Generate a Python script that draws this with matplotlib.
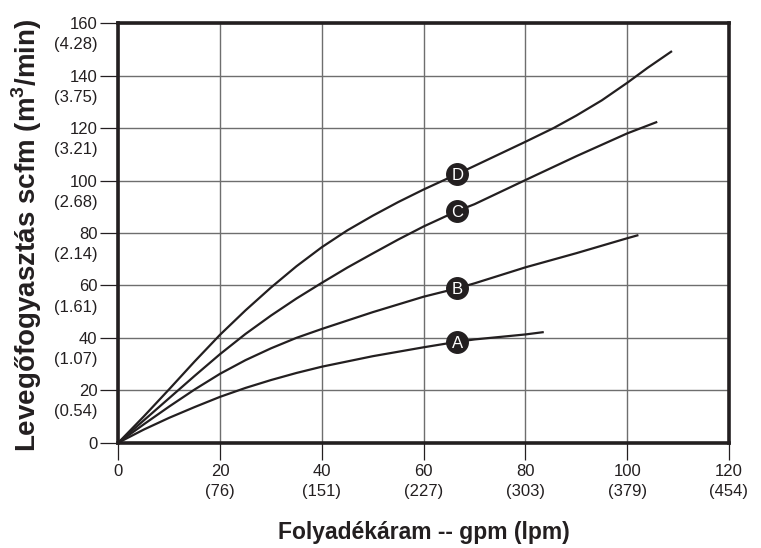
import matplotlib
matplotlib.use("Agg")
import matplotlib.pyplot as plt
import matplotlib.transforms as mtransforms

plt.rcParams['font.family'] = ['Liberation Sans', 'DejaVu Sans']
plt.rcParams['mathtext.fontset'] = 'custom'
plt.rcParams['mathtext.rm'] = 'Liberation Sans'
plt.rcParams['mathtext.bf'] = 'Liberation Sans:bold'

# Data (gpm vs scfm)
a_x = [0, 5, 10, 15, 20, 25, 30, 35, 40, 50, 60, 66.6, 70, 80, 83.6]
a_y = [0, 5.0, 9.5, 13.6, 17.5, 20.9, 23.9, 26.6, 29, 33, 36.4, 38.5, 39.4, 41.3, 42.2]
b_x = [0, 5, 10, 15, 20, 25, 30, 35, 40, 50, 60, 66.6, 70, 80, 90, 100, 102.2]
b_y = [0, 7.0, 13.8, 20.3, 26.3, 31.5, 36, 40, 43.4, 49.8, 55.7, 58.9, 60.8, 66.9, 72.3, 78, 79.2]
c_x = [0, 5, 10, 15, 20, 25, 30, 35, 40, 45, 50, 55, 60, 66.6, 70, 80, 90, 100, 105.9]
c_y = [0, 8.5, 17, 25.5, 33.8, 41.5, 48.5, 55, 61, 66.8, 72.2, 77.5, 82.5, 88.4, 91, 100.2, 109.3, 118, 122.4]
d_x = [0, 5, 10, 15, 20, 25, 30, 35, 40, 45, 50, 55, 60, 66.6, 70, 80, 85.5, 90, 95, 100, 104, 108.8]
d_y = [0, 10, 20.4, 31, 41.2, 50.5, 59.2, 67.3, 74.6, 81, 86.6, 91.8, 96.6, 102.5, 105.6, 114.8, 120,
       124.8, 130.6, 137.3, 143, 149.4]

series_names = ['A', 'B', 'C', 'D']
label_x = [66.6, 66.6, 66.6, 66.6]
label_y = [38.5, 58.9, 88.4, 102.5]

x_ticks = [0, 20, 40, 60, 80, 100, 120]
x_ticks_lpm = ['', '(76)', '(151)', '(227)', '(303)', '(379)', '(454)']
y_ticks = [0, 20, 40, 60, 80, 100, 120, 140, 160]
y_ticks_m3 = ['', '(0.54)', '(1.07)', '(1.61)', '(2.14)', '(2.68)', '(3.21)', '(3.75)', '(4.28)']

ink = '#231f20'
grid_c = '#6e6e6e'

fig = plt.figure(figsize=(7.61, 5.48), dpi=100)
ax = fig.add_axes([118.3 / 761, 1 - 442.7 / 548, (729 - 118.3) / 761, (442.7 - 23.3) / 548])

ax.set_xlim(0, 120)
ax.set_ylim(0, 160)

for xs, ys in [(a_x, a_y), (b_x, b_y), (c_x, c_y), (d_x, d_y)]:
    ax.plot(xs, ys, color=ink, lw=1.6, solid_capstyle='butt', solid_joinstyle='round',
            antialiased=True, zorder=3)

for name, lx, ly in zip(series_names, label_x, label_y):
    ax.plot([lx], [ly], 'o', ms=15.5, color=ink, mec=ink, zorder=4)
    ax.text(lx, ly, name, color='white', fontsize=12, ha='center', va='center_baseline', zorder=5)

ax.set_xticks(x_ticks)
ax.set_yticks(y_ticks)
ax.set_xticklabels([str(v) for v in x_ticks])
ax.set_yticklabels([str(v) for v in y_ticks])
ax.grid(True, color=grid_c, lw=1.0, zorder=1)
ax.set_axisbelow(True)

ax.tick_params(axis='y', direction='out', length=13, width=0.9, color=ink, pad=2,
               labelsize=12, labelcolor=ink)
ax.tick_params(axis='x', direction='out', length=12.5, width=0.9, color=ink, pad=3,
               labelsize=12, labelcolor=ink)

for sp in ax.spines.values():
    sp.set_linewidth(2.6)
    sp.set_color(ink)
    sp.set_zorder(6)

# secondary (metric) tick labels
ytrans = mtransforms.blended_transform_factory(ax.transAxes, ax.transData)
for v, s in zip(y_ticks, y_ticks_m3):
    if s:
        ax.text(-0.0345, v, s,
                transform=ytrans + mtransforms.ScaledTranslation(0, -21.7 / 100, fig.dpi_scale_trans),
                ha='right', va='center', fontsize=12, color=ink)
xtrans = mtransforms.blended_transform_factory(ax.transData, ax.transAxes)
for v, s in zip(x_ticks, x_ticks_lpm):
    if s:
        ax.text(v, 0, s,
                transform=xtrans + mtransforms.ScaledTranslation(0, -49 / 100, fig.dpi_scale_trans),
                ha='center', va='center', fontsize=12, color=ink)

ax.set_ylabel(r'Levegőfogyasztás scfm (m$^\mathbf{3}$/min)', fontsize=20, fontweight='bold', color=ink)
ax.set_xlabel('Folyadékáram -- gpm (lpm)', fontsize=16.5, fontweight='bold', color=ink, labelpad=30)
ax.yaxis.set_label_coords(-0.1216, 0.495)

fig.savefig('out.png', dpi=100)
